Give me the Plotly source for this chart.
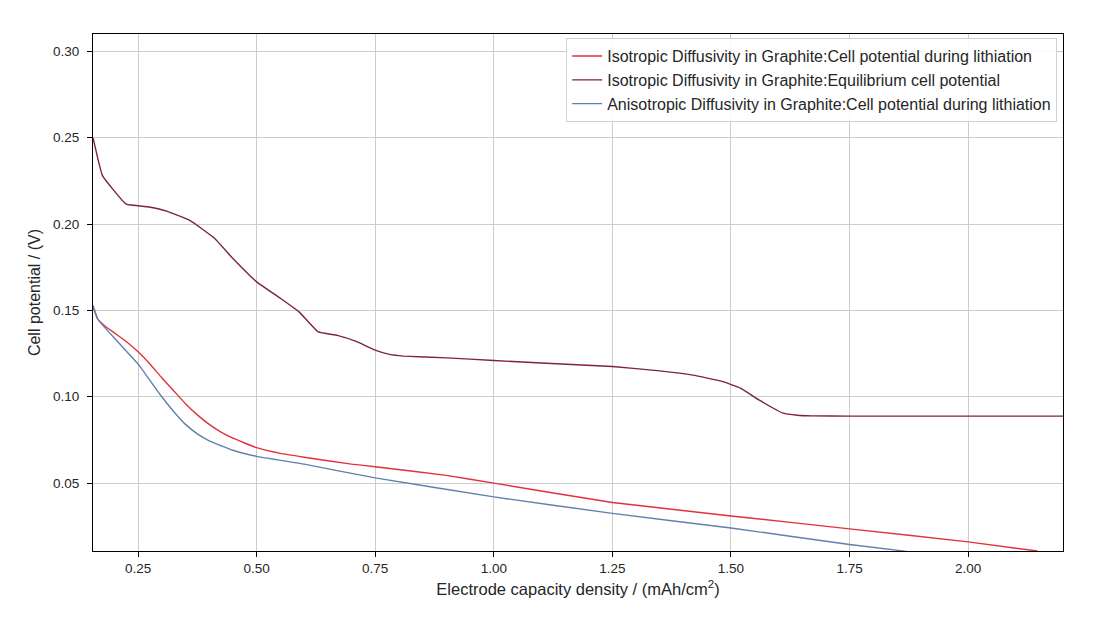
import plotly.graph_objects as go

# capacity density (mAh/cm2) and cell potential (V)
iso_x = [0.155, 0.165, 0.18, 0.2, 0.225, 0.25, 0.275, 0.3, 0.325, 0.35, 0.375, 0.4, 0.425,
         0.45, 0.5, 0.55, 0.6, 0.7, 0.75, 0.9, 1.0, 1.25, 1.5, 1.75, 2.0, 2.146]
iso_y = [0.152, 0.145, 0.141, 0.137, 0.132, 0.126, 0.119, 0.111, 0.1035, 0.096, 0.0895, 0.084,
         0.0795, 0.076, 0.0705, 0.0672, 0.065, 0.061, 0.0595, 0.0545, 0.0500, 0.0388, 0.031,
         0.0235, 0.0160, 0.0107]

eq_x = [0.155, 0.175, 0.225, 0.27, 0.31, 0.36, 0.41, 0.45, 0.5, 0.55, 0.59, 0.63, 0.67,
        0.71, 0.75, 0.78, 0.81, 0.9, 1.0, 1.1, 1.25, 1.35, 1.42, 1.48, 1.52, 1.56, 1.61,
        1.64, 1.67, 1.75, 2.2]
eq_y = [0.25, 0.228, 0.2115, 0.21, 0.2075, 0.202, 0.192, 0.18, 0.1665, 0.157, 0.149, 0.1375,
        0.1355, 0.132, 0.127, 0.1245, 0.1235, 0.1225, 0.121, 0.1195, 0.1175, 0.115, 0.1125,
        0.109, 0.105, 0.098, 0.0905, 0.0893, 0.0889, 0.0888, 0.0888]

aniso_x = [0.155, 0.165, 0.18, 0.2, 0.225, 0.25, 0.275, 0.3, 0.325, 0.35, 0.375, 0.4, 0.45,
           0.5, 0.6, 0.75, 1.0, 1.25, 1.5, 1.75, 1.87]
aniso_y = [0.153, 0.145, 0.140, 0.134, 0.1265, 0.119, 0.1095, 0.100, 0.0915, 0.084, 0.0785,
           0.0745, 0.069, 0.0655, 0.061, 0.053, 0.042, 0.0325, 0.024, 0.0145, 0.0105]

names = ["Isotropic Diffusivity in Graphite:Cell potential during lithiation",
         "Isotropic Diffusivity in Graphite:Equilibrium cell potential",
         "Anisotropic Diffusivity in Graphite:Cell potential during lithiation"]
colors = ["#e0323c", "#7e2535", "#5f80ad"]

fig = go.Figure()
for x, y, n, c in zip([iso_x, eq_x, aniso_x], [iso_y, eq_y, aniso_y], names, colors):
    fig.add_trace(go.Scatter(x=x, y=y, name=n, mode="lines", line_shape="spline",
                             line=dict(color=c, width=1.4, smoothing=0.3)))

axis_style = dict(showline=True, linecolor="black", linewidth=1.2, mirror=True,
                  ticks="outside", ticklen=5, tickcolor="black",
                  showgrid=True, gridcolor="#cccccc", gridwidth=1, zeroline=False,
                  tickfont=dict(size=13.5, color="#262626"))

fig.update_xaxes(range=[0.155, 2.2], tickvals=[0.25, 0.5, 0.75, 1.0, 1.25, 1.5, 1.75, 2.0],
                 tickformat=".2f",
                 title=dict(text="Electrode capacity density / (mAh/cm<sup>2</sup>)",
                            font=dict(size=16.5, color="#262626"), standoff=8),
                 **axis_style)
fig.update_yaxes(range=[0.0107, 0.31], tickvals=[0.05, 0.10, 0.15, 0.20, 0.25, 0.30],
                 tickformat=".2f", ticklabelstandoff=5,
                 title=dict(text="Cell potential / (V)", font=dict(size=16, color="#262626"),
                            standoff=8),
                 **axis_style)

# page body adds ~8px offset, margins compensate for it
fig.update_layout(
    width=1100, height=625,
    margin=dict(l=85, r=45, t=26, b=82),
    paper_bgcolor="white", plot_bgcolor="white",
    font=dict(family="Liberation Sans, Arial, sans-serif"),
    legend=dict(x=0.994, y=0.992, xanchor="right", yanchor="top",
                bgcolor="rgba(255,255,255,0.85)", bordercolor="#d0d0d0", borderwidth=1,
                font=dict(size=16, color="#262626"), tracegroupgap=0),
)

fig.write_html("out.html")
